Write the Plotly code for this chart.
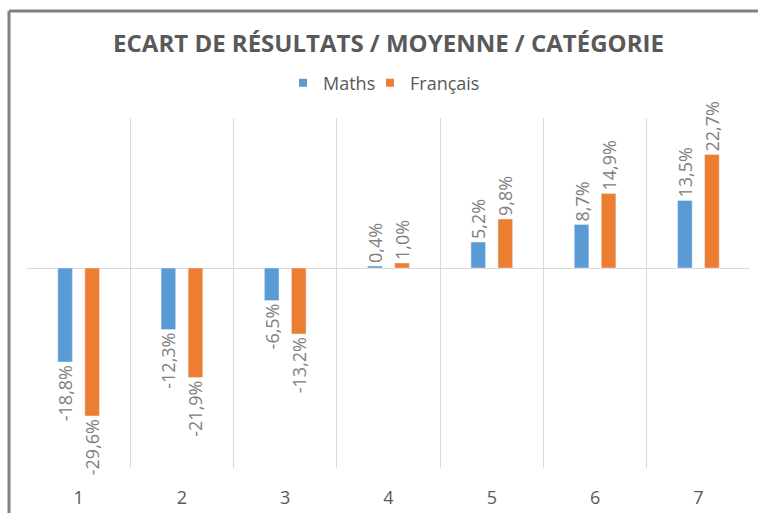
import plotly.graph_objects as go

categories = ["1", "2", "3", "4", "5", "6", "7"]
maths = [-18.8, -12.3, -6.5, 0.4, 5.2, 8.7, 13.5]
francais = [-29.6, -21.9, -13.2, 1.0, 9.8, 14.9, 22.7]
series_names = ["Maths", "Français"]
colors = ["#5b9bd5", "#ed7d31"]

FONT = "Open Sans"
label_font = dict(family=FONT, size=18, color="#808080")

L, R, T, B = 27, 8, 118, 45
W, H = 758, 513
pw, ph = W - L - R, H - T - B

fig = go.Figure()
for name, vals, col in zip(series_names, [maths, francais], colors):
    fig.add_trace(go.Bar(
        name=name, x=categories, y=vals, marker_color=col,
        texttemplate="%{y:.1f}%", textposition="outside", textangle=-90,
        textfont=label_font, cliponaxis=False, constraintext="none",
        hoverinfo="skip", showlegend=False, legendgroup=name))
# legend entries with small square keys (one legend box per series)
for name, col, lg in zip(series_names, colors, ["legend", "legend2"]):
    fig.add_trace(go.Scatter(
        name=name, x=[None], y=[None], mode="markers",
        marker=dict(symbol="square", size=8, color=col),
        showlegend=True, legendgroup=name, legend=lg, hoverinfo="skip"))

leg_common = dict(orientation="h", y=(H - B - 83) / ph, yanchor="middle",
                  xanchor="left", itemwidth=30, bgcolor="rgba(0,0,0,0)",
                  font=dict(family=FONT, size=18, color="#595959"))

fig.update_layout(
    width=W, height=H,
    margin=dict(l=L, r=R, t=T, b=B, pad=0, autoexpand=False),
    paper_bgcolor="white", plot_bgcolor="white",
    separators=", ",
    barmode="group", bargap=0.476, bargroupgap=0.46,
    title=dict(text="<b>ECART DE RÉSULTATS / MOYENNE / CATÉGORIE</b>",
               font=dict(family=FONT, size=24, color="#595959"),
               x=0.5, xref="paper", xanchor="center",
               y=1 - 44 / H, yref="container", yanchor="middle"),
    legend=dict(x=(283 - L) / pw, **leg_common),
    legend2=dict(x=(370 - L) / pw, **leg_common),
    xaxis=dict(type="category", range=[-0.5, 6.5], tickson="boundaries",
               showgrid=True, gridcolor="#d9d9d9", gridwidth=1,
               ticks="", showline=False, zeroline=False, automargin=False,
               tickfont=dict(family=FONT, size=18, color="#595959"),
               ticklabelstandoff=17),
    yaxis=dict(range=[-40, 30], showgrid=False, showticklabels=False,
               zeroline=True, zerolinecolor="#d9d9d9", zerolinewidth=1,
               ticks="", showline=False, automargin=False),
    showlegend=True,
)

# chart frame (left and top border visible in the reference)
bx = (9 - L) / pw
by = (H - B - 11) / ph
fig.add_shape(type="line", xref="paper", yref="paper",
              x0=bx, x1=bx, y0=-0.2, y1=by,
              line=dict(color="#808080", width=3))
fig.add_shape(type="line", xref="paper", yref="paper",
              x0=bx, x1=1.1, y0=by, y1=by,
              line=dict(color="#808080", width=3))

fig.write_html("out.html", config={"displayModeBar": False},
               post_script="document.body.style.margin='0';")
